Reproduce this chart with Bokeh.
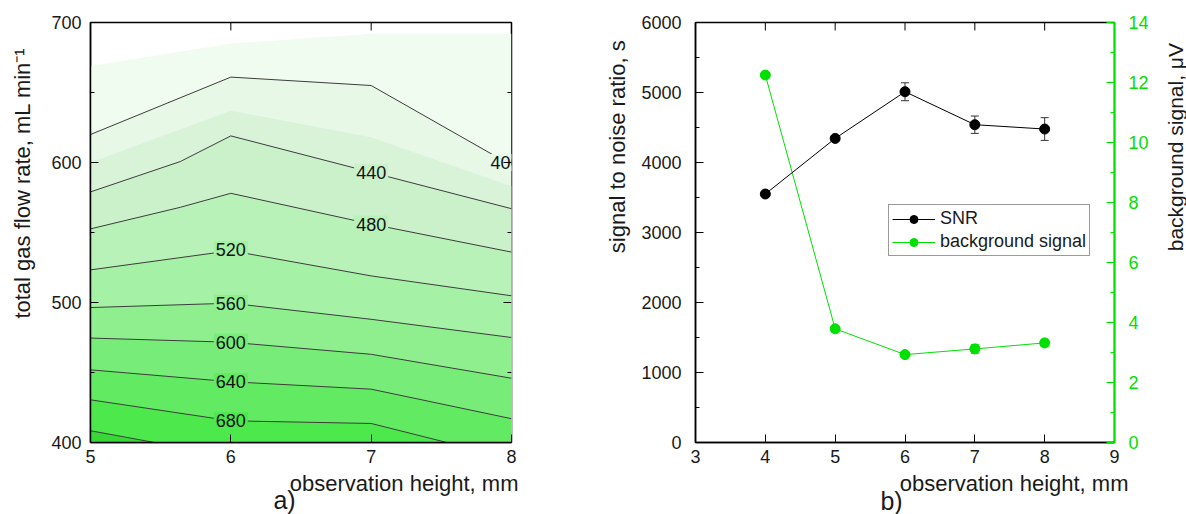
import numpy as np
from bokeh.plotting import figure
from bokeh.layouts import row, column
from bokeh.models import (Range1d, LinearAxis, SingleIntervalTicker, Legend,
                          LegendItem, Whisker, ColumnDataSource, TeeHead)
from bokeh.core.properties import value
from bokeh.embed import file_html
from bokeh.resources import INLINE

FONT = "Liberation Sans"
GREEN = "#00e000"
TXT = "#1a1a1a"

# ---------------- panel a) : contour map ----------------
line_levels = [400, 440, 480, 520, 560, 600, 640, 680, 720]
line_xs = [
    [5, 6, 7, 8],
    [5, 5.64, 6, 7, 8],
    [5, 5.64, 6, 7, 8],
    [5, 6, 7, 8],
    [5, 6, 7, 8],
    [5, 6, 7, 8],
    [5, 6, 7, 8],
    [5, 6, 7, 8],
    [5, 6],
]
line_ys = [
    [620, 661, 655, 598],
    [579, 600.7, 619, 593, 567],
    [552.6, 568, 578, 556, 536],
    [523.3, 537, 519, 504.8],
    [496.4, 499.5, 488, 475],
    [474.6, 471.6, 463, 445.9],
    [451.9, 443.4, 438.1, 417],
    [430.5, 415.5, 413.6, 388.4],
    [408.4, 390],
]
band_levels = [380, 420]
band_xs = [[5, 6, 7, 8], [5, 6, 7, 8]]
band_ys = [[669, 685, 692, 692], [600, 637, 618, 583]]

fill_color_of = {
    380: "#f1fcf1", 400: "#e7f8e7", 420: "#d9f3d9", 440: "#cbf1cb",
    480: "#b9f2b9", 520: "#a5f1a5", 560: "#8fef8f", 600: "#78ec78",
    640: "#62ea62", 680: "#4ce84c", 720: "#38d838",
}

lab_levels = [400, 440, 480, 520, 560, 600, 640, 680]
lab_x = [7.957, 7.0, 7.0, 6.0, 6.0, 6.0, 6.0, 6.0]
lab_y = [600, 593, 556, 538, 499.5, 471.6, 443.4, 415.5]

a_xticks = [5, 6, 7, 8]
a_yticks = [400, 500, 600, 700]
a_yminor = [450, 550, 650]

# ---------------- panel b) : SNR and background ----------------
height_mm = [4, 5, 6, 7, 8]
snr = [3550, 4344, 5011, 4540, 4478]
snr_err = [20, 40, 128, 124, 162]
bg_signal = [12.25, 3.79, 2.93, 3.12, 3.32]
bg_err = [0.05, 0.1, 0.08, 0.15, 0.12]

b_xticks = [3, 4, 5, 6, 7, 8, 9]

# texts
a_xtitle = "observation height, mm"
a_ytitle = "total gas flow rate, mL min\u207b\u00b9"
b_xtitle = "observation height, mm"
b_ytitle = "signal to noise ratio, s"
b_y2title = "background signal, \u03bcV"
tags = ["a)", "b)"]

TOP_H = 470
BOT_H = 44


def style_axis(ax, color="black"):
    ax.axis_line_color = color
    ax.axis_line_width = 1.5
    ax.major_tick_line_color = color
    ax.minor_tick_line_color = color
    ax.major_tick_in = 8
    ax.major_tick_out = 0
    ax.minor_tick_in = 4
    ax.minor_tick_out = 0
    ax.major_label_text_font = FONT
    ax.major_label_text_font_size = "18px"
    ax.major_label_text_color = TXT if color == "black" else color


def tick_rays(p, xs, ys, length, angle, color="black"):
    p.ray(x=xs, y=ys, length=length, length_units="screen", angle=angle,
          line_color=color, line_width=1)


def strip(w, h):
    """Blank pixel-unit canvas used to carry the titles."""
    s = figure(width=w, height=h, x_range=Range1d(0, w), y_range=Range1d(0, h),
               output_backend="svg", toolbar_location=None, x_axis_type=None,
               y_axis_type=None, min_border=0)
    s.outline_line_color = None
    return s


def vtitle(s, x, y_top, text, size="22px"):
    s.text(x=[x], y=[y_top], text=[text], angle=np.pi / 2, text_align="right",
           text_baseline="middle", text_font=value(FONT), text_font_size=size,
           text_color=TXT)


# ======== figure a ========
p1 = figure(width=550, height=TOP_H, x_range=Range1d(5, 8), y_range=Range1d(400, 700),
            output_backend="svg", toolbar_location=None,
            min_border_left=50, min_border_right=79, min_border_top=22, min_border_bottom=28,
            x_axis_type=None, y_axis_type=None)
p1.grid.visible = False
p1.outline_line_color = "black"
p1.outline_line_width = 1.5

all_b = sorted([(l, x, y) for l, x, y in zip(line_levels, line_xs, line_ys)] +
               [(l, x, y) for l, x, y in zip(band_levels, band_xs, band_ys)], key=lambda t: t[0])
floor = p1.y_range.start - 60
pxs, pys, pcs = [], [], []
for lev, xs, ys in all_b:
    pxs.append(list(xs) + [xs[-1], xs[0]])
    pys.append(list(ys) + [floor, floor])
    pcs.append(fill_color_of[lev])
p1.patches(pxs, pys, fill_color=pcs, line_color=None)

p1.multi_line(line_xs, line_ys, line_color="#3c3c3c", line_width=1)

lab_src = ColumnDataSource(dict(x=lab_x, y=lab_y, t=[str(v) for v in lab_levels],
                                bg=[fill_color_of[v] for v in lab_levels]))
p1.text(x="x", y="y", text="t", source=lab_src, text_align="center", text_baseline="middle",
        text_font=value(FONT), text_font_size="18px", text_color="#111111",
        background_fill_color="bg", padding=2)

tick_rays(p1, a_xticks, [p1.y_range.end] * len(a_xticks), 8, -np.pi / 2)
tick_rays(p1, [p1.x_range.end] * len(a_yticks), a_yticks, 8, np.pi)
tick_rays(p1, [p1.x_range.end] * len(a_yminor), a_yminor, 4, np.pi)

xa = LinearAxis(ticker=SingleIntervalTicker(interval=1, num_minor_ticks=0), major_label_standoff=7)
style_axis(xa)
p1.add_layout(xa, "below")
ya = LinearAxis(ticker=SingleIntervalTicker(interval=100, num_minor_ticks=2), major_label_standoff=9)
style_axis(ya)
p1.add_layout(ya, "left")

# ======== figure b ========
p2 = figure(width=516, height=TOP_H, x_range=Range1d(3, 9), y_range=Range1d(0, 6000),
            output_backend="svg", toolbar_location=None,
            min_border_left=60, min_border_right=36, min_border_top=22, min_border_bottom=28,
            x_axis_type=None, y_axis_type=None)
p2.grid.visible = False
p2.outline_line_color = "black"
p2.outline_line_width = 1.5
p2.extra_y_ranges = {"bg": Range1d(0, 14)}

src_snr = ColumnDataSource(dict(x=height_mm, y=snr,
                                lo=[a - b for a, b in zip(snr, snr_err)],
                                hi=[a + b for a, b in zip(snr, snr_err)]))
src_bg = ColumnDataSource(dict(x=height_mm, y=bg_signal,
                               lo=[a - b for a, b in zip(bg_signal, bg_err)],
                               hi=[a + b for a, b in zip(bg_signal, bg_err)]))

l2 = p2.line("x", "y", source=src_bg, y_range_name="bg", line_color=GREEN, line_width=1)
l1 = p2.line("x", "y", source=src_snr, line_color="black", line_width=1)

w1 = Whisker(base="x", lower="lo", upper="hi", source=src_snr, line_color="#333333", line_width=1,
             upper_head=TeeHead(size=8, line_color="#333333"),
             lower_head=TeeHead(size=8, line_color="#333333"))
p2.add_layout(w1)
w2 = Whisker(base="x", lower="lo", upper="hi", source=src_bg, y_range_name="bg",
             line_color=GREEN, line_width=1,
             upper_head=TeeHead(size=8, line_color=GREEN),
             lower_head=TeeHead(size=8, line_color=GREEN))
p2.add_layout(w2)

s2 = p2.scatter("x", "y", source=src_bg, y_range_name="bg", size=10, fill_color=GREEN,
                line_color=GREEN)
s1 = p2.scatter("x", "y", source=src_snr, size=10, fill_color="black", line_color="black")

tick_rays(p2, b_xticks, [p2.y_range.end] * len(b_xticks), 8, -np.pi / 2)

bx = LinearAxis(ticker=SingleIntervalTicker(interval=1, num_minor_ticks=0), major_label_standoff=7)
style_axis(bx)
p2.add_layout(bx, "below")
by = LinearAxis(ticker=SingleIntervalTicker(interval=1000, num_minor_ticks=2), major_label_standoff=14)
style_axis(by)
p2.add_layout(by, "left")
by2 = LinearAxis(y_range_name="bg", ticker=SingleIntervalTicker(interval=2, num_minor_ticks=2),
                 major_label_standoff=14)
style_axis(by2, color=GREEN)
p2.add_layout(by2, "right")

legend = Legend(items=[LegendItem(label="SNR", renderers=[l1, s1]),
                       LegendItem(label="background signal", renderers=[l2, s2])],
                location=(193, 186), margin=0, padding=3, spacing=2,
                glyph_width=43, glyph_height=20, label_standoff=5,
                label_text_font=FONT, label_text_font_size="18px", label_text_color=TXT,
                border_line_color="#333333", border_line_width=1, background_fill_alpha=1)
p2.add_layout(legend)

# ======== title strips ========
sL = strip(40, TOP_H)
vtitle(sL, 22, TOP_H - 28, a_ytitle)
sM = strip(45, TOP_H)
vtitle(sM, 27, TOP_H - 20, b_ytitle)
sR = strip(35, TOP_H)
vtitle(sR, 24, TOP_H - 23, b_y2title, size="21px")

sB = strip(1186, BOT_H)
sB.text(x=[518, 1128], y=[BOT_H - 13, BOT_H - 13], text=[a_xtitle, b_xtitle],
        text_align="right", text_baseline="middle", text_font=value(FONT),
        text_font_size="22px", text_color=TXT)
sB.text(x=[284, 891], y=[BOT_H - 29, BOT_H - 30], text=tags,
        text_align="center", text_baseline="middle", text_font=value(FONT),
        text_font_size="25px", text_color=TXT)

layout = column(row(sL, p1, sM, p2, sR), sB)
open("out.html", "w").write(file_html(layout, INLINE))
